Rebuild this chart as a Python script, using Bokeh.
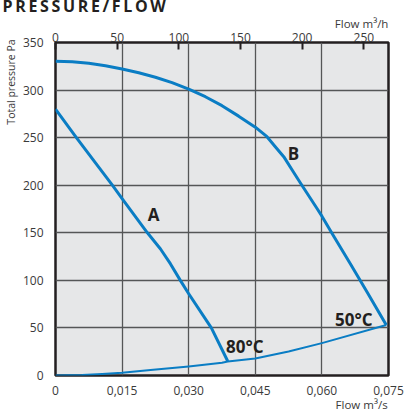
from bokeh.plotting import figure
from bokeh.models import (Range1d, LinearAxis, FixedTicker, CustomJSTickFormatter, Label, Title)
from bokeh.embed import file_html
from bokeh.resources import INLINE

# ---- data ----
flow_ticks = [0, 0.015, 0.030, 0.045, 0.060, 0.075]
pressure_ticks = [0, 50, 100, 150, 200, 250, 300, 350]
flow_h_ticks = [0, 50, 100, 150, 200, 250]

curve_a_q = [0.0, 0.0047, 0.0128, 0.0150, 0.0207, 0.02365, 0.0259, 0.02815, 0.0300, 0.0351, 0.0388]
curve_a_p = [280, 250, 200, 186, 150, 133, 117.3, 99.7, 86, 50, 15]

curve_b_q = [0.0, 0.00375, 0.0075, 0.01125, 0.0150, 0.01875, 0.0225, 0.02625, 0.0300, 0.03375,
             0.0375, 0.04125, 0.0450, 0.04763, 0.0495, 0.0514, 0.0533, 0.0552, 0.0589, 0.0600,
             0.0627, 0.0664, 0.0702, 0.0745]
curve_b_p = [330.2, 329.8, 328.2, 325.6, 322.2, 318.2, 313.5, 307.8, 301, 293,
             283.6, 272.6, 261, 251, 240.5, 230, 216, 202, 175.5, 167.5,
             146, 117.5, 87.5, 53]

system_q = [0.0, 0.0060, 0.0105, 0.0150, 0.0214, 0.0300, 0.0375, 0.0388, 0.0450, 0.0525, 0.0600, 0.0745]
system_p = [0, 0.5, 1.5, 2.8, 5.7, 9.5, 13.4, 14.7, 17.9, 25.3, 34, 53]

labels_text = ["A", "B", "80°C", "50°C"]
title_text = "P\u2009R\u2009E\u2009S\u2009S\u2009U\u2009R\u2009E\u2009/\u2009F\u2009L\u2009O\u2009W"

BLUE = "#0a7dc4"
DARK = "#231f20"
TXT = "#3a3a3a"
FONT = "Open Sans"
NBSP = "\u00a0"

p = figure(width=406, height=415, output_backend="svg", toolbar_location=None,
           x_range=Range1d(0, 0.075), y_range=Range1d(0, 350),
           min_border_left=55, min_border_top=42, min_border_right=18, min_border_bottom=40)
p.background_fill_color = "#e6e7e8"
p.border_fill_color = "white"
p.outline_line_color = DARK
p.outline_line_width = 2.5


def set_align(ax):
    for v in ("end", "right"):
        try:
            ax.axis_label_align = v
            return
        except Exception:
            pass


def style_axis_label(ax, size):
    ax.axis_label_text_font = FONT
    ax.axis_label_text_font_size = size
    ax.axis_label_text_font_style = "normal"
    ax.axis_label_text_color = TXT
    set_align(ax)


# axes
xa = p.xaxis[0]
xa.ticker = FixedTicker(ticks=flow_ticks)
xa.formatter = CustomJSTickFormatter(code="return tick == 0 ? '0' : tick.toFixed(3).replace('.', ',');")
ya = p.yaxis[0]
ya.ticker = FixedTicker(ticks=pressure_ticks)
for ax in (xa, ya):
    ax.axis_line_color = None
    ax.major_tick_line_color = None
    ax.minor_tick_line_color = None
    ax.major_label_text_font = FONT
    ax.major_label_text_font_size = "12px"
    ax.major_label_text_color = TXT
xa.major_label_standoff = 4
ya.major_label_standoff = 6
# the label is centred on the axis end, so trailing no-break spaces keep the
# visible words on the near side of that end
xa.axis_label = "Flow m³/s" + NBSP * 18
xa.axis_label_standoff = -1
style_axis_label(xa, "11.5px")
ya.axis_label = "Total pressure Pa" + NBSP * 29
ya.axis_label_standoff = 2
style_axis_label(ya, "10.5px")

p.extra_x_ranges = {"mh": Range1d(0, 270)}
top = LinearAxis(x_range_name="mh", ticker=FixedTicker(ticks=flow_h_ticks))
top.axis_line_color = None
top.minor_tick_line_color = None
top.major_tick_line_color = DARK
top.major_tick_line_width = 2
top.major_tick_in = 7
top.major_tick_out = 0
top.major_label_text_font = FONT
top.major_label_text_font_size = "12px"
top.major_label_text_color = TXT
top.major_label_standoff = 1
top.axis_label = "Flow m³/h" + NBSP * 18
top.axis_label_standoff = -1
style_axis_label(top, "11.5px")
p.add_layout(top, "above")

# main title, placed in the outermost top panel
p.title = Title(text=title_text, align="left", offset=-53, vertical_align="top",
                standoff=-13, text_font=FONT, text_font_style="bold",
                text_font_size="16px", text_color=DARK)

p.xgrid.ticker = FixedTicker(ticks=flow_ticks)
p.ygrid.ticker = FixedTicker(ticks=pressure_ticks)
for g in (p.xgrid[0], p.ygrid[0]):
    g.grid_line_color = "#555657"
    g.grid_line_width = 1.3

# curves
p.line(curve_a_q, curve_a_p, line_color=BLUE, line_width=3, line_join="round")
p.line(curve_b_q, curve_b_p, line_color=BLUE, line_width=3, line_join="round")
p.line(system_q, system_p, line_color=BLUE, line_width=2, line_join="round")

# curve labels
def lab(text, x, y, align="center", size="17px"):
    p.add_layout(Label(x=x, y=y, text=text, text_font=FONT, text_font_style="bold",
                       text_font_size=size, text_color=DARK, text_align=align,
                       text_baseline="middle"))

lab(labels_text[0], 0.0221, 169)
lab(labels_text[1], 0.0536, 233)
lab(labels_text[2], 0.0384, 31, align="left")
lab(labels_text[3], 0.0714, 59, align="right")

open("out.html", "w").write(file_html(p, INLINE))
